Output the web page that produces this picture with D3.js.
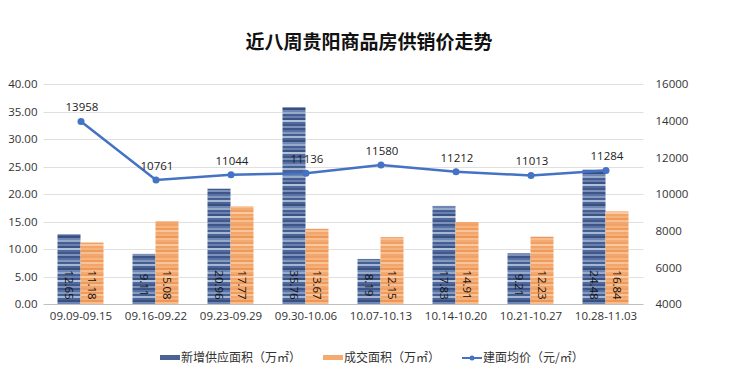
<!DOCTYPE html>
<html>
<head>
<meta charset="utf-8">
<script src="https://cdn.jsdelivr.net/npm/d3@7"></script>
<style>
body { margin: 0; background: #fff; }
text { font-family: "Noto Sans CJK SC", "Noto Sans", sans-serif; }
.num { font-family: "Open Sans", "Noto Sans", sans-serif; }
</style>
</head>
<body>
<svg id="chart" width="740" height="374"></svg>
<script>
// weekly data
var weeks = ["09.09-09.15", "09.16-09.22", "09.23-09.29", "09.30-10.06",
             "10.07-10.13", "10.14-10.20", "10.21-10.27", "10.28-11.03"];
var supply = [12.65, 9.11, 20.96, 35.76, 8.19, 17.83, 9.21, 24.48];
var deal = [11.18, 15.08, 17.77, 13.67, 12.15, 14.91, 12.23, 16.84];
var price = [13958, 10761, 11044, 11136, 11580, 11212, 11013, 11284];
var leftTicks = [0, 5, 10, 15, 20, 25, 30, 35, 40];
var rightTicks = [4000, 6000, 8000, 10000, 12000, 14000, 16000];
var seriesNames = ["新增供应面积（万㎡）", "成交面积（万㎡）", "建面均价（元/㎡）"];

var svg = d3.select("#chart");
var plotL = 43.5, plotR = 643.5, plotT = 84, plotB = 304;

var x = d3.scaleBand().domain(weeks).range([plotL, plotR]);
var yL = d3.scaleLinear().domain([0, 40]).range([plotB, plotT]);
var yR = d3.scaleLinear().domain([4000, 16000]).range([plotB, plotT]);

// striped fills like the original
var defs = svg.append("defs");
function stripes(id, shades) {
  var p = defs.append("pattern").attr("id", id)
    .attr("patternUnits", "userSpaceOnUse")
    .attr("width", 40).attr("height", shades.length * 2);
  shades.forEach(function(c, i) {
    p.append("rect").attr("x", 0).attr("y", i * 2).attr("width", 40).attr("height", 2).attr("fill", c);
  });
}
stripes("blueS", ["#3d5689", "#5a72a3", "#8598c0", "#44608f", "#a7b6d3", "#4b659a", "#37507f", "#7086b3",
                  "#98a9cb", "#465f93", "#6a80ad", "#3a5385", "#b3c0da", "#52699b", "#40598c", "#7d91ba"]);
stripes("orangeS", ["#f3a166", "#f6b680", "#f09a5c", "#f8c49a", "#f2a56c", "#f5b078", "#ee9656", "#f7bd8e",
                    "#f4aa70", "#f1a064", "#f9caa3", "#f3a468", "#f5b37c", "#ef9a5b", "#f7c092", "#f2a76e"]);

// title
svg.append("text").attr("x", 369).attr("y", 49).attr("text-anchor", "middle")
  .style("font-size", "19px").style("font-weight", "bold").attr("fill", "#111")
  .text("近八周贵阳商品房供销价走势");

// grid
svg.append("g").selectAll("line").data(leftTicks).enter().append("line")
  .attr("x1", plotL).attr("x2", plotR)
  .attr("y1", function(d) { return Math.round(yL(d)) + 0.5; })
  .attr("y2", function(d) { return Math.round(yL(d)) + 0.5; })
  .attr("stroke", function(d) { return d === 0 ? "#bfbfbf" : "#e0e0e0"; })
  .attr("stroke-width", 1);

// axes labels
var axL = svg.append("g").attr("transform", "translate(" + plotL + ",0)")
  .call(d3.axisLeft(yL).tickValues(leftTicks).tickFormat(d3.format(".2f")).tickSize(0).tickPadding(6));
var axR = svg.append("g").attr("transform", "translate(" + (plotR + 10) + ",0)")
  .call(d3.axisRight(yR).tickValues(rightTicks).tickFormat(d3.format("d")).tickSize(0).tickPadding(2));
var axB = svg.append("g").attr("transform", "translate(0," + plotB + ")")
  .call(d3.axisBottom(x).tickSize(0).tickPadding(8));
[axL, axR, axB].forEach(function(a) {
  a.select(".domain").remove();
  a.selectAll("text").attr("class", "num").style("font-size", "11.5px").attr("fill", "#333");
});

var bw = 23;
var groups = svg.append("g").selectAll("g").data(weeks).enter().append("g")
  .attr("transform", function(d) { return "translate(" + (x(d) + x.bandwidth() / 2 - 0.5) + ",0)"; });

groups.append("rect")
  .attr("x", -bw).attr("width", bw)
  .attr("y", function(d, i) { return yL(supply[i]); })
  .attr("height", function(d, i) { return plotB - yL(supply[i]); })
  .attr("fill", "url(#blueS)");
groups.append("rect")
  .attr("x", 0).attr("width", bw)
  .attr("y", function(d, i) { return yL(deal[i]); })
  .attr("height", function(d, i) { return plotB - yL(deal[i]); })
  .attr("fill", "url(#orangeS)");

// rotated value labels inside bars
groups.append("text").attr("class", "num")
  .attr("transform", "translate(" + (-bw / 2) + ",285) rotate(90)")
  .attr("text-anchor", "middle").attr("dy", "0.35em")
  .style("font-size", "11.5px").attr("fill", "#111")
  .text(function(d, i) { return supply[i].toFixed(2); });
groups.append("text").attr("class", "num")
  .attr("transform", "translate(" + (bw / 2) + ",285) rotate(90)")
  .attr("text-anchor", "middle").attr("dy", "0.35em")
  .style("font-size", "11.5px").attr("fill", "#111")
  .text(function(d, i) { return deal[i].toFixed(2); });

// price line
var line = d3.line()
  .x(function(d, i) { return x(weeks[i]) + x.bandwidth() / 2; })
  .y(function(d) { return yR(d); });
svg.append("path").datum(price).attr("d", line)
  .attr("fill", "none").attr("stroke", "#4472c4").attr("stroke-width", 2.5);
svg.append("g").selectAll("circle").data(price).enter().append("circle")
  .attr("cx", function(d, i) { return x(weeks[i]) + x.bandwidth() / 2; })
  .attr("cy", function(d) { return yR(d); })
  .attr("r", 3.5).attr("fill", "#4472c4");
svg.append("g").selectAll("text").data(price).enter().append("text")
  .attr("class", "num")
  .attr("x", function(d, i) { return x(weeks[i]) + x.bandwidth() / 2 + 1; })
  .attr("y", function(d) { return yR(d) - 10; })
  .attr("text-anchor", "middle")
  .style("font-size", "11.5px").attr("fill", "#222")
  .text(function(d) { return d; });

// legend
var lg = svg.append("g");
var ly = 358;
lg.append("rect").attr("x", 160).attr("y", ly - 3).attr("width", 20).attr("height", 5).attr("fill", "#4a6294");
lg.append("text").attr("x", 181).attr("y", ly).attr("dy", "0.35em").style("font-size", "12px").attr("fill", "#333").text(seriesNames[0]);
lg.append("rect").attr("x", 323).attr("y", ly - 3).attr("width", 20).attr("height", 5).attr("fill", "#f4ab72");
lg.append("text").attr("x", 344).attr("y", ly).attr("dy", "0.35em").style("font-size", "12px").attr("fill", "#333").text(seriesNames[1]);
lg.append("line").attr("x1", 462).attr("x2", 482).attr("y1", ly).attr("y2", ly).attr("stroke", "#4472c4").attr("stroke-width", 2);
lg.append("circle").attr("cx", 472).attr("cy", ly).attr("r", 2.5).attr("fill", "#4472c4");
lg.append("text").attr("x", 483).attr("y", ly).attr("dy", "0.35em").style("font-size", "12px").attr("fill", "#333").text(seriesNames[2]);
</script>
</body>
</html>
